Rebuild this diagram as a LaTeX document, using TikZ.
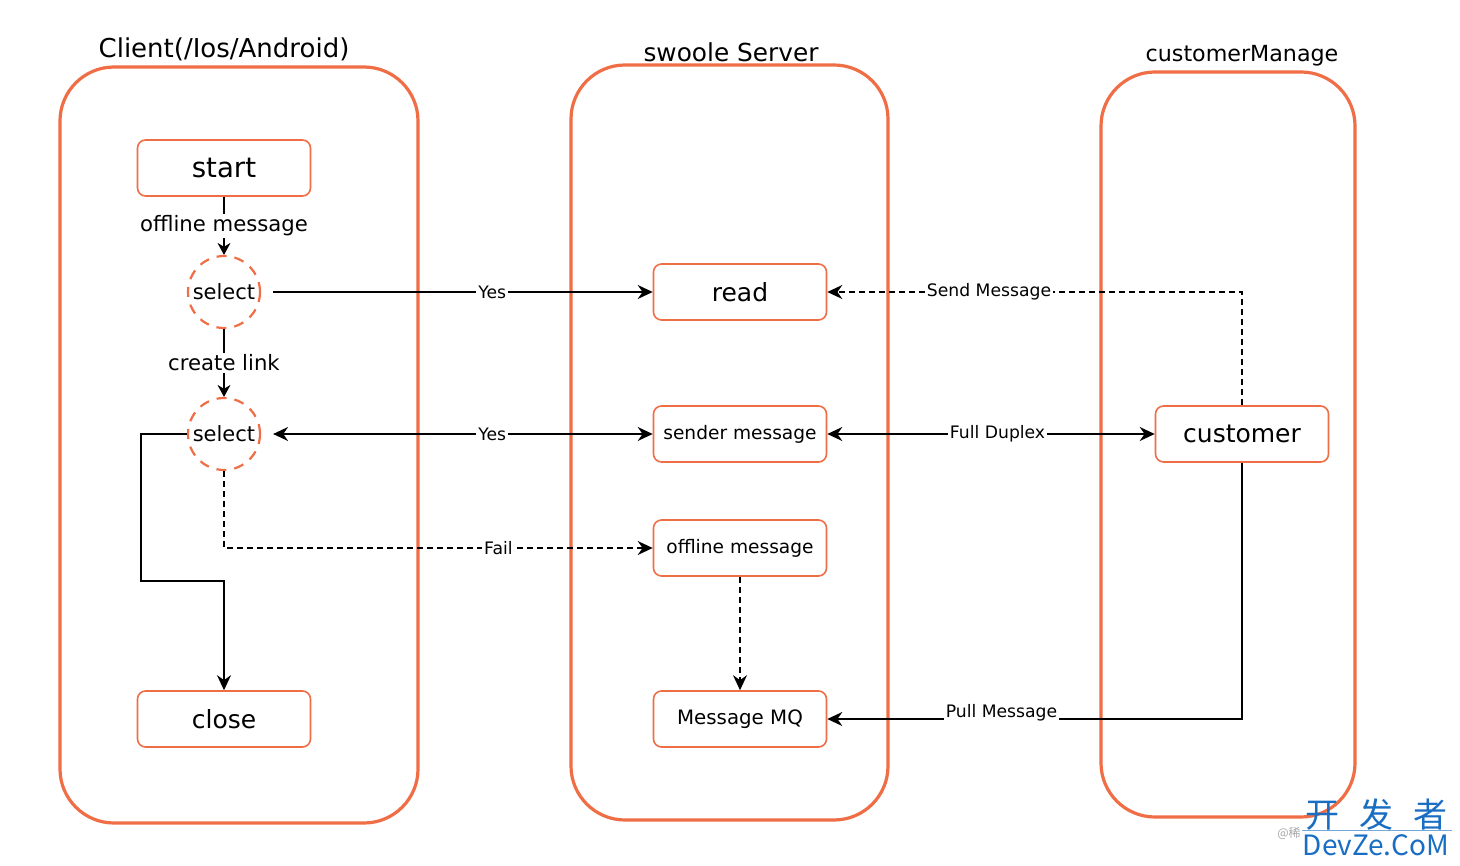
\documentclass[tikz,border=0pt]{standalone}
\usepackage{fontspec}
\setmainfont{DejaVu Sans}
\newfontfamily\cjk{Noto Sans CJK SC}
\usetikzlibrary{arrows.meta}
\definecolor{org}{RGB}{240,110,70}
\definecolor{wmblue}{RGB}{25,110,195}
\tikzset{
  container/.style={draw=org, line width=1.6pt, rounded corners=27pt},
  box/.style={draw=org, line width=0.8pt, rounded corners=4pt, fill=white,
    minimum width=86.5pt, minimum height=28pt, inner sep=0pt},
  sel/.style={circle, draw=org, line width=1.1pt, dash pattern=on 5pt off 4pt,
    minimum size=36pt, inner sep=0pt, font=\fontsize{10.5}{12}\selectfont},
  big/.style={font=\fontsize{12.5}{14}\selectfont},
  small/.style={font=\fontsize{9.3}{11}\selectfont},
  conn/.style={line width=0.7pt, -{Stealth[length=7.5pt,width=7pt]}},
  both/.style={line width=0.7pt, {Stealth[length=7.5pt,width=7pt]}-{Stealth[length=7.5pt,width=7pt]}},
  dsh/.style={dash pattern=on 3pt off 2pt},
  lbl/.style={fill=white, inner sep=1pt, font=\fontsize{8.6}{10}\selectfont},
  flow/.style={fill=white, inner sep=1pt, font=\fontsize{10.6}{12}\selectfont},
}
\begin{document}
\begin{tikzpicture}[x=0.5pt,y=-0.5pt]
\fill[white] (0,0) rectangle (1460,866);
\useasboundingbox (0,0) rectangle (1460,866);

% containers
\draw[container] (60,67) rectangle (418,823);
\draw[container] (571,65) rectangle (888,820);
\draw[container] (1101,72) rectangle (1355,817);
\node[font=\fontsize{13}{15}\selectfont] (t1) at (224,49) {Client(/Ios/Android)};
\node[font=\fontsize{12.4}{14}\selectfont] (t2) at (731,52) {swoole Server};
\node[font=\fontsize{11.1}{13}\selectfont] (t3) at (1242,56) {customerManage};

% client nodes
\node[box,font=\fontsize{13.8}{15}\selectfont] (start) at (224,168) {start};
\node[sel] (s1) at (224,292) {select};
\node[sel] (s2) at (224,434) {select};
\node[box,big] (close) at (224,719) {close};

% server nodes
\node[box,big] (read) at (740,292) {read};
\node[box,small] (sender) at (740,434) {sender message};
\node[box,small] (off) at (740,548) {offline message};
\node[box,font=\fontsize{9.9}{11}\selectfont] (mq) at (740,719) {Message MQ};

% customer
\node[box,big] (cust) at (1242,434) {customer};

% coordinates
\coordinate (c1) at (141,434);
\coordinate (c2) at (141,581);
\coordinate (c3) at (224,581);

% connectors
\draw[line width=0.7pt,-{Stealth[length=6pt,width=6.5pt]}] (start.south) -- node[flow]{offline message} (s1.north);
\draw[line width=0.7pt,-{Stealth[length=6pt,width=6.5pt]}] (s1.south) -- node[flow]{create link} (s2.north);
\draw[conn, shorten <=6pt] (s1.east) -- node[lbl,pos=0.59]{Yes} (read.west);
\draw[both, shorten <=6pt] (s2.east) -- node[lbl,pos=0.59]{Yes} (sender.west);
\draw[conn, dsh] (s2.south) |- node[lbl,pos=0.82]{Fail} (off.west);
\draw[conn] (s2.west) -- (c1) -- (c2) -- (c3) -- (close.north);
\draw[conn, dsh] (cust.north) |- node[lbl,pos=0.805]{Send Message} (read.east);
\draw[both] (sender.east) -- node[lbl,pos=0.52]{Full Duplex} (cust.west);
\draw[conn, dsh] (off.south) -- (mq.north);
\draw[conn] (cust.south) |- node[lbl,pos=0.79,yshift=3pt]{Pull Message} (mq.east);

% watermark
\node[text=black!35, font=\cjk\fontsize{6}{7}\selectfont] (wm0) at (1289,833) {@稀};
\node[text=wmblue, font=\cjk\fontsize{17}{19}\selectfont] (wm1) at (1376,815) {开\hspace{10pt}发\hspace{10pt}者};
\draw[wmblue!60, line width=0.4pt] (1302,830) -- (1452,830);
\node[text=wmblue, font=\cjk\fontsize{14}{16}\selectfont] (wm2) at (1376,845) {DevZe.CoM};
\end{tikzpicture}
\end{document}
